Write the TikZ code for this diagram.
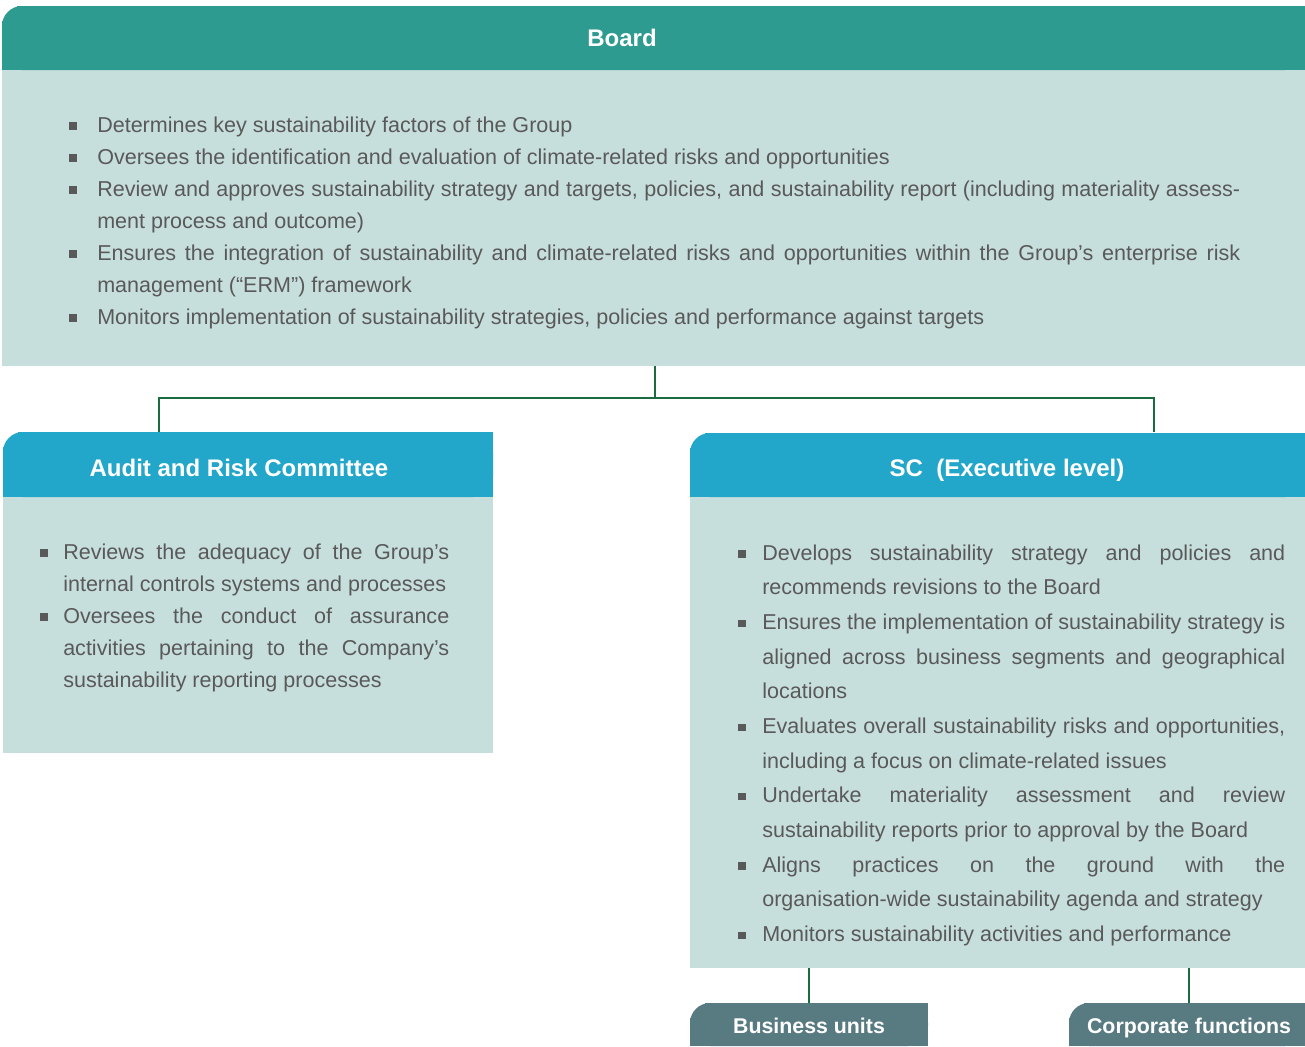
\documentclass[tikz,border=0pt]{standalone}
\usepackage{fontspec}
\setmainfont{Liberation Sans}
\usepackage{enumitem}
\usetikzlibrary{positioning}

\definecolor{boardteal}{HTML}{2E9B91}
\definecolor{panelbg}{HTML}{C7DFDC}
\definecolor{cmteblue}{HTML}{22A7CA}
\definecolor{unitslate}{HTML}{587A81}
\definecolor{linkgreen}{HTML}{1B6B40}
\definecolor{textgrey}{HTML}{595959}

% square bullet and the duty lists
\newcommand{\sqbullet}{\textcolor{textgrey}{\rule[1.7pt]{5.5pt}{5.5pt}}}
\newlist{duties}{itemize}{1}
\setlist[duties]{label=\sqbullet, nosep, labelindent=0pt, labelsep=0pt, align=left}

% filled box with the top left corner rounded: colour, x1, y1, x2, y2
\newcommand{\tabfill}[5]{%
  \fill[#1,rounded corners=15] (#2,#3) rectangle (#4,#5);
  \fill[#1] (#2+15,#3) rectangle (#4,#5);
  \fill[#1] (#2,#3+15) rectangle (#4,#5);
}

\hyphenpenalty=10000
\tolerance=10000
\hbadness=10000

\begin{document}
\begin{tikzpicture}[x=0.75pt,y=-0.75pt,
  hdr/.style={text=white,inner sep=0pt,anchor=base,font=\fontsize{18}{22}\selectfont\bfseries},
  subhdr/.style={text=white,inner sep=0pt,text height=11.5pt,text depth=0pt,font=\fontsize{16}{20}\selectfont\bfseries},
  duty/.style={text=textgrey,inner sep=0pt,align=justify,anchor=base west},
  link/.style={linkgreen,line width=2.2pt}]
\useasboundingbox (0,0) rectangle (1305,1046);

% Connectors
\coordinate (boardfoot) at (655,366);
\coordinate (fork) at (655,398);
\coordinate (audittop) at (159,432);
\coordinate (sctop) at (1154,432);
\coordinate (scfootl) at (809,968);
\coordinate (scfootr) at (1189,968);
\draw[link] (boardfoot) -- (fork);
\draw[link] (audittop) |- (fork) -| (sctop);

% Board
\fill[panelbg] (2,70) rectangle (1305,366);
\tabfill{boardteal}{2}{6}{1305}{70}
\node[hdr] (board) at (622,46.6) {Board};
\node[duty,text width=878.25pt] (boardduties) at (69,100) {%
  \fontsize{16.15}{24}\selectfont
  \begin{duties}[leftmargin=21pt,labelwidth=21pt]
  \item Determines key sustainability factors of the Group
  \item Oversees the identification and evaluation of climate-related risks and opportunities
  \item Review and approves sustainability strategy and targets, policies, and sustainability report (including materiality assess-\linebreak ment process and outcome)
  \item Ensures the integration of sustainability and climate-related risks and opportunities within the Group’s enterprise risk\linebreak management (“ERM”) framework
  \item Monitors implementation of sustainability strategies, policies and performance against targets
  \end{duties}};

% Audit and Risk Committee
\fill[panelbg] (3,497) rectangle (493,753);
\tabfill{cmteblue}{3}{432}{493}{497}
\node[hdr] (audit) at (239,476.6) {Audit and Risk Committee};
\node[duty,text width=306.75pt] (auditduties) at (40,527) {%
  \fontsize{16.15}{24}\selectfont
  \begin{duties}[leftmargin=17.25pt,labelwidth=17.25pt]
  \item Reviews the adequacy of the Group’s\linebreak internal controls systems and processes
  \item Oversees the conduct of assurance\linebreak activities pertaining to the Company’s\linebreak sustainability reporting processes
  \end{duties}};

% SC
\fill[panelbg] (690,497) rectangle (1305,968);
\tabfill{cmteblue}{690}{433}{1305}{497}
\node[hdr] (sc) at (1007,476.6) {SC\ \ (Executive level)};
\node[duty,text width=410.25pt] (scduties) at (738,525.4) {%
  \fontsize{16.15}{26}\selectfont
  \begin{duties}[leftmargin=18pt,labelwidth=18pt]
  \item Develops sustainability strategy and policies and\linebreak recommends revisions to the Board
  \item Ensures the implementation of sustainability strategy is\linebreak aligned across business segments and geographical\linebreak locations
  \item Evaluates overall sustainability risks and opportunities,\linebreak including a focus on climate-related issues
  \item Undertake materiality assessment and review\linebreak sustainability reports prior to approval by the Board
  \item Aligns practices on the ground with the\linebreak organisation-wide sustainability agenda and strategy
  \item Monitors sustainability activities and performance
  \end{duties}};

% Business units and corporate functions
\tabfill{unitslate}{690}{1003}{928}{1046}
\tabfill{unitslate}{1069}{1003}{1305}{1046}
\node[subhdr,minimum width=178.5pt,minimum height=34.5pt,anchor=north] (units) at (809,1003) {Business units};
\node[subhdr,minimum width=177pt,minimum height=34.5pt,anchor=north] (corp) at (1189,1003) {Corporate functions};
\draw[link] (scfootl) -- (units.north);
\draw[link] (scfootr) -- (corp.north);
\end{tikzpicture}
\end{document}
